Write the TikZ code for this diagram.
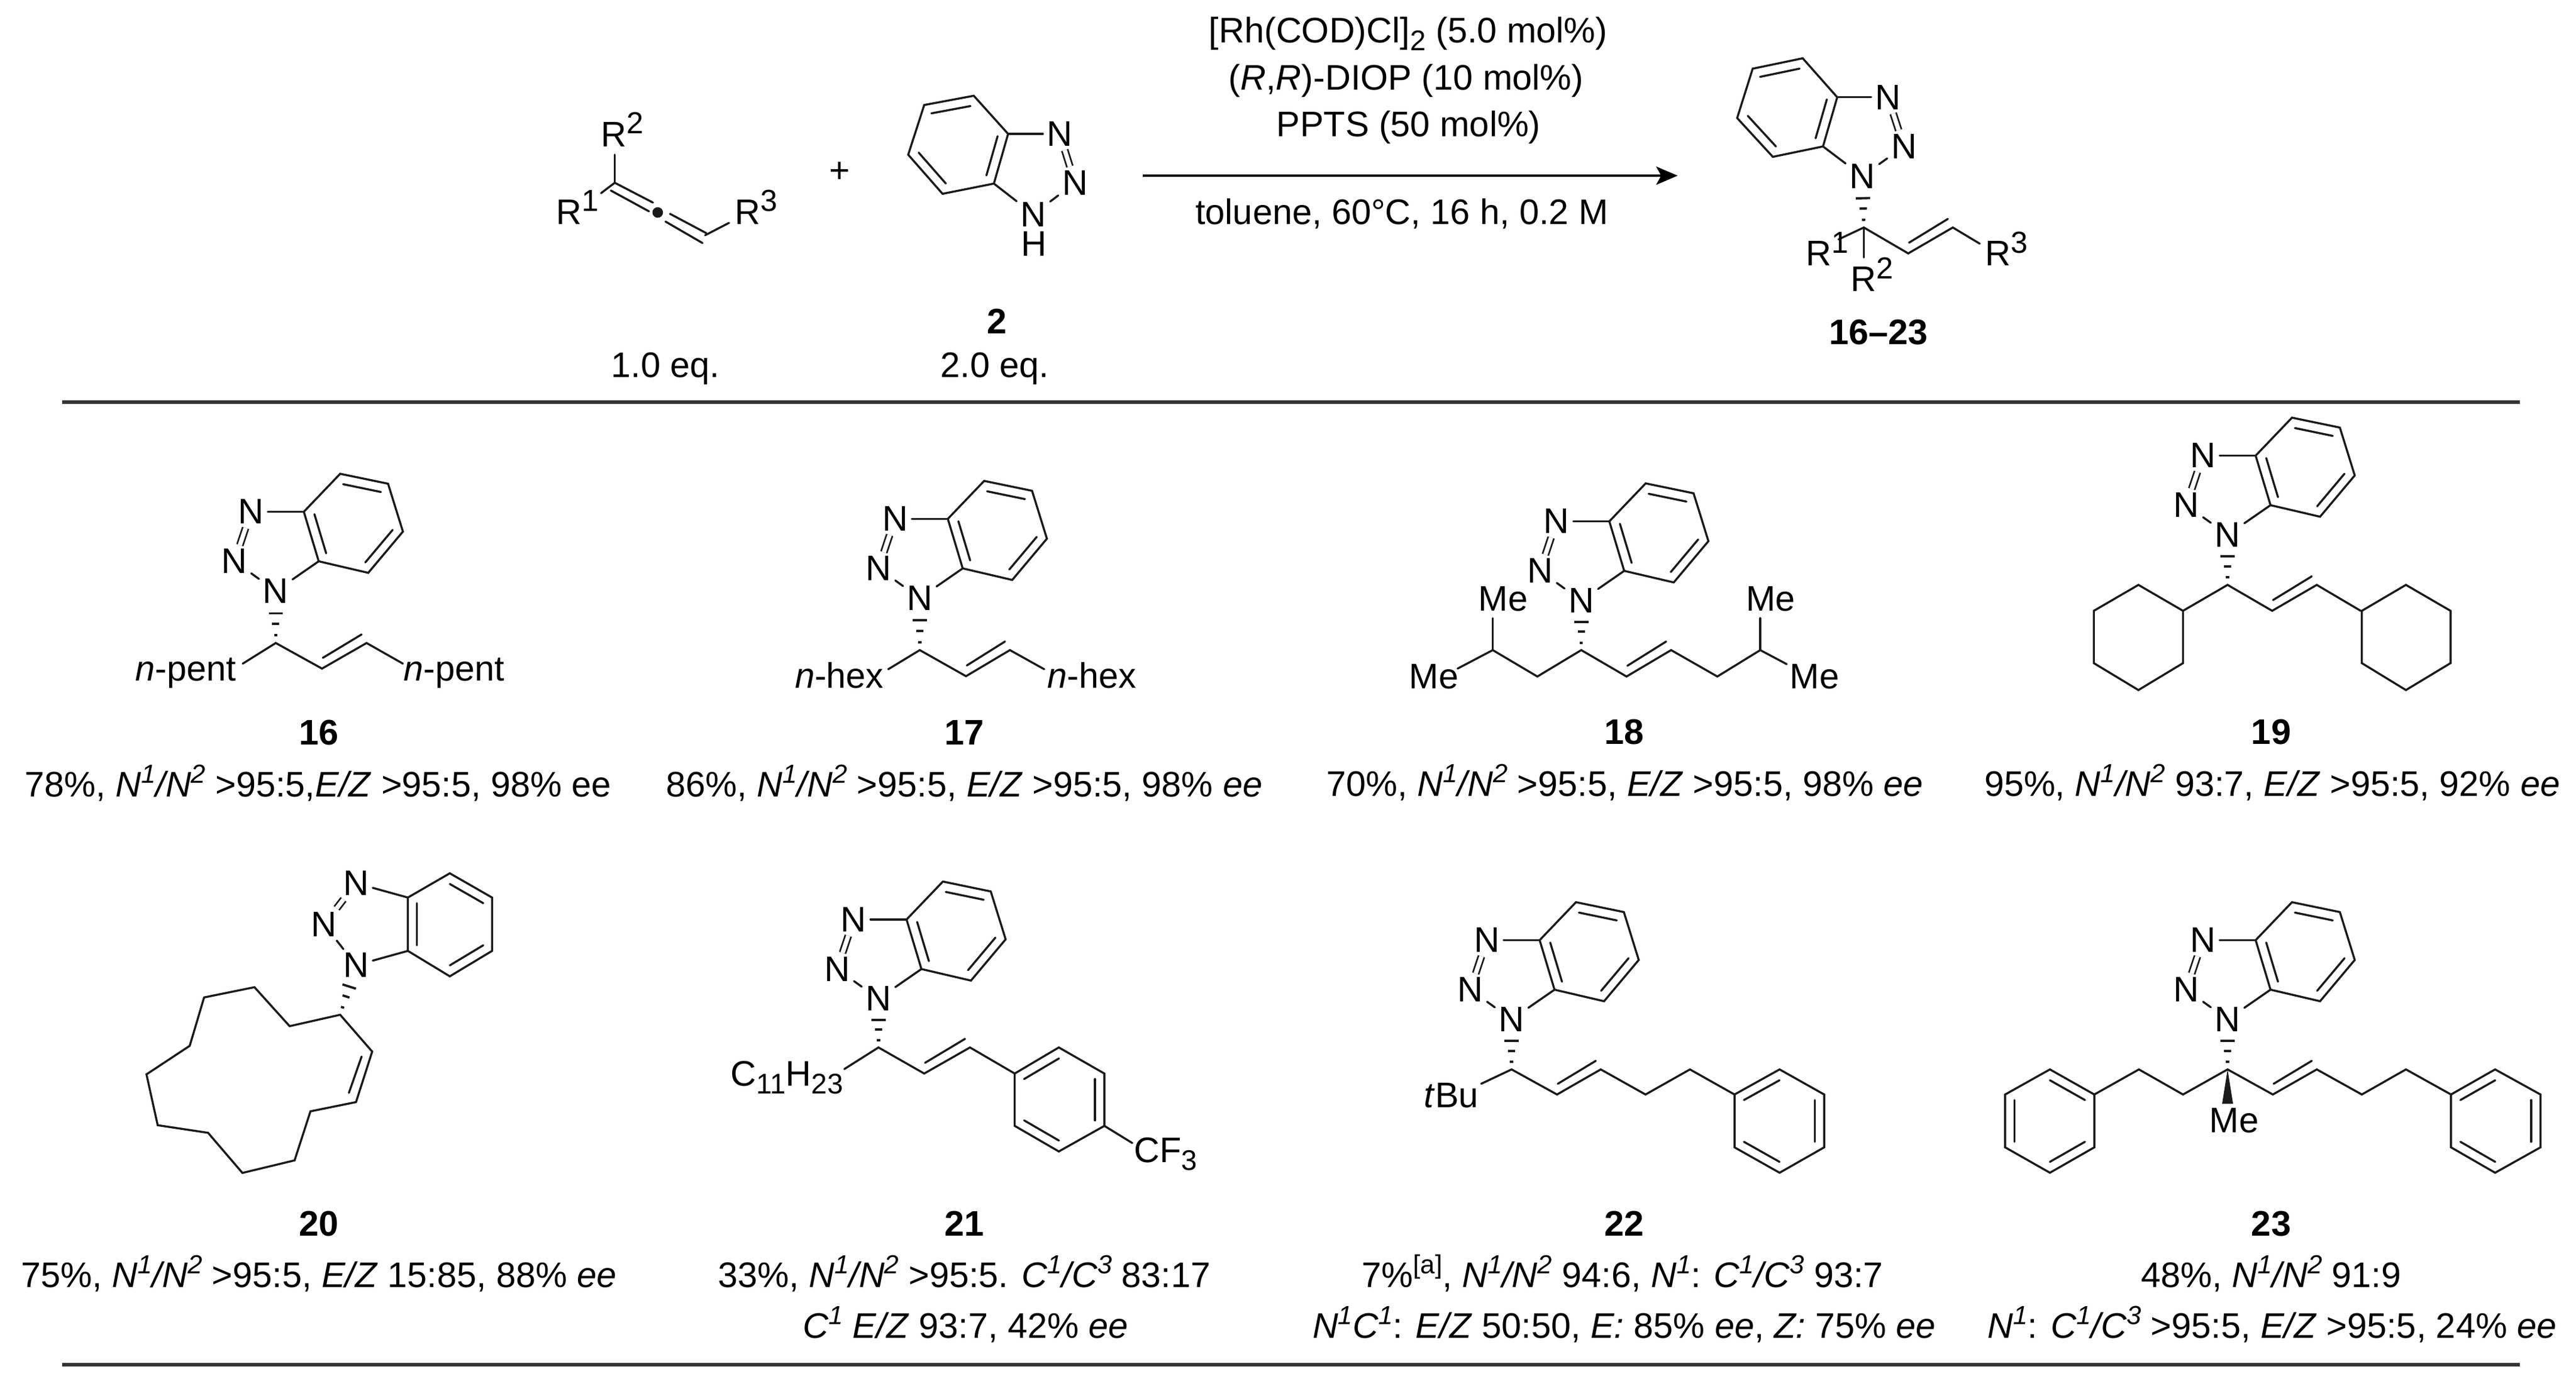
\documentclass[tikz,border=0pt]{standalone}
\usepackage{fontspec}
\setmainfont{Liberation Sans}
\usetikzlibrary{calc,arrows.meta}
\definecolor{ink}{HTML}{1A1A1A}
\newcommand{\rsup}[1]{\raisebox{3.9pt}{\fontsize{9.2}{9.2}\selectfont #1}}
\newcommand{\csub}[1]{\raisebox{-2.3pt}{\fontsize{8.6}{8.6}\selectfont #1}}
\newcommand{\tsup}[1]{\raisebox{4.2pt}{\fontsize{7.9}{7.9}\selectfont #1}}
\newcommand{\benz}[6]{%
  \coordinate (h1) at #1; \coordinate (h2) at #2; \coordinate (h3) at #3;
  \coordinate (h4) at #4; \coordinate (h5) at #5; \coordinate (h6) at #6;
  \coordinate (hc) at ($(h1)!.5!(h4)$);
  \draw[bond] (h1)--(h2)--(h3)--(h4)--(h5)--(h6)--cycle;}
\newcommand{\inb}[2]{\draw[bond] ($(h#1)!.21!(hc)$) -- ($(h#2)!.21!(hc)$);}
\newcommand{\alk}[2]{\draw[bond] ($#1+(0.5,-6.5)$) -- ($#2+(-3,-5.2)$);}
\newcommand{\hashb}[2]{%
  \foreach \f/\w in {.43/2.15,.63/1.1,.85/.5}{%
    \draw[hashs] ($(#1.center)!\f!(#2)!\w pt!90:(#2)$) -- ($(#1.center)!\f!(#2)!\w pt!-90:(#2)$);}}
% benzotriazole, N1 at #1,#2
\newcommand{\btz}[2]{%
  \begin{scope}[shift={(#1,#2)}]
    \node[atom] (N1) at (0,0) {N};
    \node[atom] (N2) at (-25,-18) {N};
    \node[atom] (N3) at (-15,-48) {N};
    \benz{(39,-71)}{(68,-65)}{(77,-36)}{(56,-11)}{(26,-18)}{(17,-48)}
    \inb12 \inb34 \inb56
    \draw[bond] (N1)--(h5);
    \draw[bond] (N3)--(h6);
    \draw[bond] (N1)--(N2);
    \draw[nn] (N2)--(N3);
  \end{scope}}
\tikzset{
  every node/.style={font=\fontsize{10.75}{13}\selectfont,text=black},
  bond/.style={draw=ink,line width=.62pt,line cap=round,line join=miter},
  nn/.style={draw=ink,line width=.5pt,double=white,double distance=1.3pt},
  hashs/.style={draw=ink,line width=.7pt},
  atom/.style={inner sep=1.2pt,outer sep=0pt},
  lw/.style={inner sep=0pt,anchor=base west},
  le/.style={inner sep=0pt,anchor=base east},
  tx/.style={inner sep=0pt,anchor=base},
  rulex/.style={draw=black!80,line width=1pt},
}
\begin{document}
\begin{tikzpicture}[x=.5pt,y=-.5pt]
\useasboundingbox (0,0) rectangle (1560,842.6);
% rules
\coordinate (r1a) at (37.8,243.6); \coordinate (r1b) at (1526,243.6);
\coordinate (r2a) at (37.8,826.6); \coordinate (r2b) at (1526,826.6);
\draw[rulex] (r1a)--(r1b);
\draw[rulex] (r2a)--(r2b);
% allene
\node[lw] (aR2) at (363.5,88.7) {R\rsup{2}};
\node[lw] (aR1) at (336.5,135.8) {R\rsup{1}};
\node[lw] (aR3) at (444.5,135.8) {R\rsup{3}};
\draw[bond] (372.3,110.7)--(372.3,93.7);
\draw[bond] (372.3,110.7)--(364,117);
\draw[bond] (372.3,110.7)--(395.4,122.7);
\draw[bond] (369.9,115.4)--(393,128);
\fill[ink] (398.3,128.7) circle (1.6pt);
\draw[bond] (405.7,129.5)--(427.7,141.2);
\draw[bond] (403,134.2)--(425.4,147.2);
\draw[bond] (427,142.5)--(441.5,135);
\node[tx] (plus) at (508.5,110.5) {+};
% benzotriazole 2
\node[atom] (bN3) at (641.7,81.1) {N};
\node[atom] (bN2) at (651,110.7) {N};
\node[atom] (bN1) at (625.8,129.8) {N};
\node[inner sep=0pt] (bH) at (626,147.6) {H};
\benz{(589.7,58)}{(559.7,63.6)}{(550,93.7)}{(570.8,117.4)}{(601.9,111.2)}{(610.5,81.1)}
\inb12 \inb34 \inb56
\draw[bond] (bN1)--(h5);
\draw[bond] (bN3)--(h6);
\draw[bond] (bN1)--(bN2);
\draw[nn] (bN2)--(bN3);
\node[tx] (lab2) at (603.6,202.2) {\textbf{2}};
\node[tx] (eq1) at (403,228.4) {1.0 eq.};
\node[tx] (eq2) at (602.4,228.4) {2.0 eq.};
% arrow
\coordinate (arA) at (692,106.4); \coordinate (arB) at (1016,106.4);
\draw[draw=black,line width=.75pt,-{Stealth[length=6.5pt,width=5.5pt,inset=1.5pt]}] (arA)--(arB);
\node[tx] (c1) at (852.8,25.9) {[Rh(COD)Cl]\csub{2} (5.0 mol\%)};
\node[tx] (c2) at (851.5,54.5) {(\textit{R},\textit{R})-DIOP (10 mol\%)};
\node[tx] (c3) at (853,82.7) {PPTS (50 mol\%)};
\node[tx] (c4) at (849,135.8) {toluene, 60°C, 16 h, 0.2 M};
% product
\node[atom] (pN3) at (1143.3,58.9) {N};
\node[atom] (pN2) at (1153,88.7) {N};
\node[atom] (pN1) at (1127.8,106.7) {N};
\benz{(1091.7,35.3)}{(1061.4,41.6)}{(1052,71.5)}{(1073.6,95)}{(1104,88.7)}{(1112.6,58.9)}
\inb12 \inb34 \inb56
\draw[bond] (pN1)--(h5);
\draw[bond] (pN3)--(h6);
\draw[bond] (pN1)--(pN2);
\draw[nn] (pN2)--(pN3);
\coordinate (pC) at (1128.7,137.8);
\hashb{pN1}{pC}
\draw[bond] (1113.4,145)--(pC)--(1155.6,153.5)--(1182.6,137.8)--(1198.9,147.6);
\draw[bond] (pC)--(1128.7,156);
\alk{(1155.6,153.5)}{(1182.6,137.8)}
\node[lw] (pR1) at (1093.3,160.9) {R\rsup{1}};
\node[lw] (pR3) at (1201.9,160.9) {R\rsup{3}};
\node[lw] (pR2) at (1120.5,176.5) {R\rsup{2}};
\node[tx] (lab1623) at (1137.6,208.8) {\textbf{16–23}};
% 16
\btz{167}{358}
\coordinate (C) at (167,389.5);
\hashb{N1}{C}
\draw[bond] (147,402)--(C)--(195,405)--(222,389.5)--(244,402);
\alk{(195,405)}{(222,389.5)}
\node[le] (l16a) at (143.5,412.5) {\textit{n}-pent};
\node[lw] (l16b) at (244,412.5) {\textit{n}-pent};
\node[tx] (n16) at (193,451) {\textbf{16}};
\node[tx] (t16) at (192.6,482.6) {78\%, \textit{N\tsup{1}/N\tsup{2}} >95:5,\textit{E/Z} >95:5, 98\% ee};
% 17
\btz{557}{362.3}
\coordinate (C) at (557,393.8);
\hashb{N1}{C}
\draw[bond] (537.9,405.4)--(C)--(585,409.6)--(611.6,393.8)--(632.4,405.4);
\alk{(585,409.6)}{(611.6,393.8)}
\node[le] (l17a) at (535.6,416.8) {\textit{n}-hex};
\node[lw] (l17b) at (634,416.8) {\textit{n}-hex};
\node[tx] (n17) at (584,451) {\textbf{17}};
\node[tx] (t17) at (584,482.6) {86\%, \textit{N\tsup{1}/N\tsup{2}} >95:5, \textit{E/Z} >95:5, 98\% \textit{ee}};
% 18
\btz{957.6}{363.8}
\coordinate (C) at (957.6,393.8);
\hashb{N1}{C}
\draw[bond] (882.7,405)--(904,393.8)--(931,409.8)--(C)--(985,409.8)--(1012,393.8)--(1040,409.8)--(1066,393.8)--(1082,402.3);
\draw[bond] (904,393.8)--(904,374.5);
\draw[bond] (1066,393.8)--(1066,374.5);
\alk{(985,409.8)}{(1012,393.8)}
\node[tx] (m1) at (910.3,370) {Me};
\node[tx] (m2) at (1072.3,370) {Me};
\node[tx] (m3) at (868.4,417) {Me};
\node[tx] (m4) at (1098.8,417) {Me};
\node[tx] (n18) at (983.6,450.7) {\textbf{18}};
\node[tx] (t18) at (984,482.3) {70\%, \textit{N\tsup{1}/N\tsup{2}} >95:5, \textit{E/Z} >95:5, 98\% \textit{ee}};
% 19
\btz{1349}{324}
\coordinate (C) at (1349,354.3);
\hashb{N1}{C}
\draw[bond] (1322,370)--(C)--(1376,370)--(1403,354.3)--(1429.6,370);
\alk{(1376,370)}{(1403,354.3)}
\draw[bond] (1322,370)--(1295,354.3)--(1268,370)--(1268,401.7)--(1295,418)--(1322,401.7)--cycle;
\draw[bond] (1430.3,370)--(1457,354.3)--(1484,370)--(1484,401.7)--(1457,418)--(1430.3,401.7)--cycle;
\node[tx] (n19) at (1375.4,450.7) {\textbf{19}};
\node[tx] (t19) at (1376,482.3) {95\%, \textit{N\tsup{1}/N\tsup{2}} 93:7, \textit{E/Z} >95:5, 92\% \textit{ee}};
% 20
\node[atom] (zN3) at (215.6,535) {N};
\node[atom] (zN2) at (196.3,560) {N};
\node[atom] (zN1) at (215.6,584.7) {N};
\benz{(247,543.7)}{(272.4,529)}{(298,543.7)}{(298,576)}{(272.4,591.4)}{(247,576)}
\inb23 \inb45 \inb61
\draw[bond] (zN3)--(h1);
\draw[bond] (zN1)--(h6);
\draw[bond] (zN1)--(zN2);
\draw[nn] (zN2)--(zN3);
\coordinate (C) at (206,614.7);
\hashb{zN1}{C}
\draw[bond] (C)--(225.4,637)--(215.6,667.6)--(188,673.2)--(178.4,702.9)--(146.8,710.5)--(126,686.2)--(95.5,681.6)--(88.7,650.8)--(114.9,633.5)--(123.6,604.2)--(154.1,598)--(175.4,621.6)--cycle;
\draw[bond] (219,640)--(211.3,662);
\node[tx] (n20) at (193,748.7) {\textbf{20}};
\node[tx] (t20) at (193.2,779.8) {75\%, \textit{N\tsup{1}/N\tsup{2}} >95:5, \textit{E/Z} 15:85, 88\% \textit{ee}};
% 21
\btz{532}{605}
\coordinate (C) at (532,634.5);
\hashb{N1}{C}
\draw[bond] (511.3,647.6)--(C)--(559.7,650.3)--(587.4,634.5)--(614.5,650.3);
\alk{(559.7,650.3)}{(587.4,634.5)}
\benz{(614.5,650.3)}{(641.2,634.5)}{(668.8,650.3)}{(668.8,682)}{(641.2,697.5)}{(614.5,682)}
\inb12 \inb34 \inb56
\draw[bond] (h4)--(685.7,692.4);
\node[le] (c11) at (511,658) {C\csub{11}H\csub{23}};
\node[lw] (cf3) at (686.5,704.2) {CF\csub{3}};
\node[tx] (n21) at (584,748.7) {\textbf{21}};
\node[tx] (t21a) at (584,779.8) {33\%, \textit{N\tsup{1}/N\tsup{2}} >95:5. \textit{C\tsup{1}/C\tsup{3}} 83:17};
\node[tx] (t21b) at (584.7,810.6) {\textit{C\tsup{1} E/Z} 93:7, 42\% \textit{ee}};
% 22
\btz{915.4}{617.5}
\coordinate (C) at (915.4,647.8);
\hashb{N1}{C}
\draw[bond] (897,656.5)--(C)--(942.9,663)--(969.4,647.8)--(996.5,663)--(1023.4,647.8)--(1050.4,663);
\alk{(942.9,663)}{(969.4,647.8)}
\benz{(1050.4,663)}{(1077.7,647.8)}{(1104.7,663)}{(1104.7,695)}{(1077.7,710.4)}{(1050.4,695)}
\inb12 \inb34 \inb56
\node[lw] (tbu) at (862,670.8) {\textit{t}Bu};
\node[tx] (n22) at (983.6,748.7) {\textbf{22}};
\node[tx] (t22a) at (982.6,779.8) {7\%\tsup{[a]}, \textit{N\tsup{1}/N\tsup{2}} 94:6, \textit{N\tsup{1}}: \textit{C\tsup{1}/C\tsup{3}} 93:7};
\node[tx] (t22b) at (983.6,810.6) {\textit{N\tsup{1}C\tsup{1}}: \textit{E/Z} 50:50, \textit{E:} 85\% \textit{ee}, \textit{Z:} 75\% \textit{ee}};
% 23
\btz{1349}{617.5}
\coordinate (C) at (1349,647.8);
\hashb{N1}{C}
\benz{(1268.3,663)}{(1241.4,647.8)}{(1214.3,663)}{(1214.3,695)}{(1241.4,710.4)}{(1268.3,695)}
\inb12 \inb34 \inb56
\draw[bond] (h1)--(1295.3,647.8)--(1322,663)--(C)--(1376.4,663)--(1403,647.8)--(1430.3,663)--(1457,647.8)--(1484.3,663);
\alk{(1376.4,663)}{(1403,647.8)}
\benz{(1484.3,663)}{(1511,647.8)}{(1538.5,663)}{(1538.5,695)}{(1511,710.4)}{(1484.3,695)}
\inb12 \inb34 \inb56
\coordinate (wR) at (1352.3,668.6); \coordinate (wL) at (1345.7,668.6);
\fill[ink] (C)--(wR)--(wL)--cycle;
\node[tx] (me23) at (1353,686) {Me};
\node[tx] (n23) at (1375.4,748.7) {\textbf{23}};
\node[tx] (t23a) at (1375.4,779.8) {48\%, \textit{N\tsup{1}/N\tsup{2}} 91:9};
\node[tx] (t23b) at (1376,810.6) {\textit{N\tsup{1}}: \textit{C\tsup{1}/C\tsup{3}} >95:5, \textit{E/Z} >95:5, 24\% \textit{ee}};
\end{tikzpicture}
\end{document}
